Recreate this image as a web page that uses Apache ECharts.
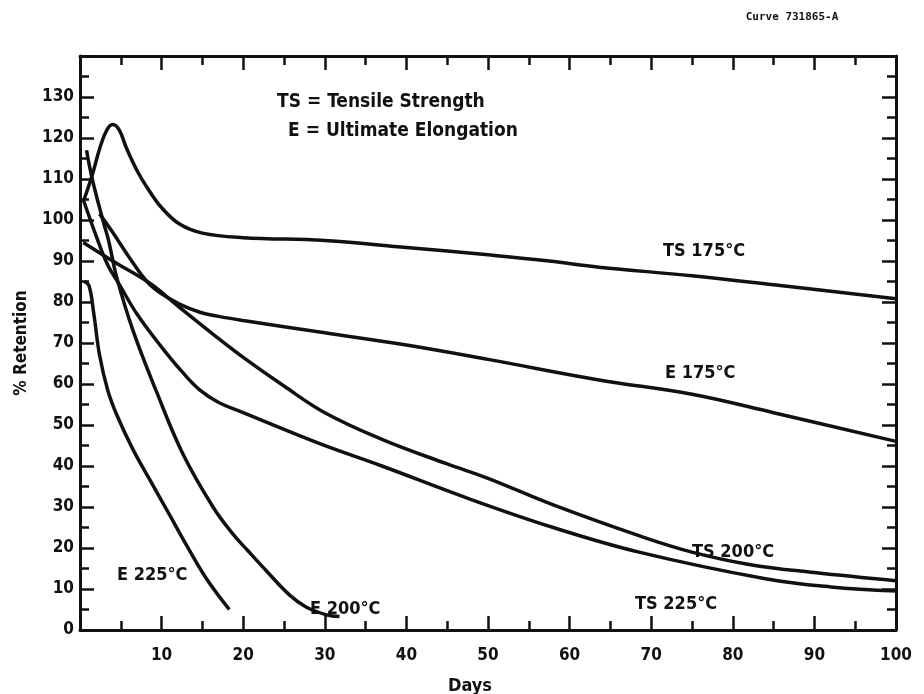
<!DOCTYPE html>
<html>
<head>
<meta charset="utf-8">
<style>
  html, body { margin: 0; padding: 0; background: #fff; }
  #chart { width: 924px; height: 694px; }
</style>
<script src="https://cdn.jsdelivr.net/npm/echarts@6/dist/echarts.min.js"></script>
</head>
<body>
<div id="chart"></div>
<script>
var chart = echarts.init(document.getElementById('chart'));

// [days, % retention]
var ts175 = [[0.5,105],[1.5,111],[2.5,118],[3.3,122],[4,123.3],[4.8,122],[5.7,117.5],[7,112],[8.2,108],[10,103],[12.2,99],[15,96.8],[20,95.7],[30,95],[40,93.3],[50,91.5],[57.5,90],[63.6,88.5],[75,86.4],[85,84.2],[100,80.8]];
var e175 = [[2.4,101.5],[4,97],[6,91],[8.2,85],[10,82],[12.2,79.5],[14.7,77.5],[17,76.5],[20,75.5],[30,72.5],[40,69.5],[50,66],[63.6,61],[75,57.5],[85,53],[100,46]];
var ts200 = [[0.4,94.5],[4,90],[8.6,84.5],[12,79],[16.4,72],[20,66.5],[25,59.5],[30,53],[37,46.5],[45,40.5],[50,37],[58,30.5],[68.5,23],[75,19],[82,16],[90,14],[100,12]];
var ts225 = [[0.4,105],[2,96],[3.4,89],[4.9,84],[7,77],[10,69],[12.5,63],[14.7,58.5],[17,55.5],[20,53],[29.3,45.5],[37,40],[47.7,32],[58,25],[68.5,19],[84,12.5],[92,10.5],[100,9.5]];
var e200 = [[0.8,117],[1.5,110],[2.8,100],[3.5,95],[4.5,86],[6.5,73],[9.4,58],[12.6,43],[16.3,30],[18.7,23.5],[20.5,19.5],[22.8,14.5],[25.7,8.5],[27.7,5.6],[30.2,3.7],[31.8,3.3]];
var e225 = [[0.5,85],[1.1,84],[1.7,77],[2.4,67],[3.4,58.5],[4.5,52.5],[6.5,44],[8.6,36.5],[11,28],[13.1,20.5],[15.5,12.5],[18.3,5]];

var curveNames = ['TS 175°C','E 175°C','TS 200°C','TS 225°C','E 200°C','E 225°C'];
var curveData = [ts175, e175, ts200, ts225, e200, e225];

var FONT = '"DejaVu Sans Condensed", "Liberation Sans", sans-serif';
var INK = '#111';

function axisCommon(pos, showLabel) {
    return {
        type: 'value',
        position: pos,
        axisLine: { show: true, onZero: false, lineStyle: { color: INK, width: 3 } },
        axisTick: { show: true, inside: true, length: 14, lineStyle: { color: INK, width: 2.5 } },
        minorTick: { show: true, splitNumber: 2, length: 9, lineStyle: { color: INK, width: 2.5 } },
        splitLine: { show: false },
        axisLabel: { show: showLabel }
    };
}

var xBottom = axisCommon('bottom', true);
xBottom.min = 0; xBottom.max = 100; xBottom.interval = 10;
xBottom.axisLabel = {
    show: true, margin: 17, color: INK, fontFamily: FONT, fontWeight: 'bold', fontSize: 17,
    formatter: function (v) { return v === 0 ? '' : v; }
};
var xTop = axisCommon('top', false);
xTop.min = 0; xTop.max = 100; xTop.interval = 10;

var yLeft = axisCommon('left', true);
yLeft.min = 0; yLeft.max = 140; yLeft.interval = 10;
yLeft.axisLabel = {
    show: true, margin: 6, color: INK, fontFamily: FONT, fontWeight: 'bold', fontSize: 17,
    formatter: function (v) { return v === 140 ? '' : v; }
};
yLeft.name = '% Retention';
yLeft.nameLocation = 'middle';
yLeft.nameGap = 50;
yLeft.nameTextStyle = { color: INK, fontFamily: FONT, fontWeight: 'bold', fontSize: 17 };
var yRight = axisCommon('right', false);
yRight.min = 0; yRight.max = 140; yRight.interval = 10;

var series = [];
for (var i = 0; i < curveData.length; i++) {
    series.push({
        name: curveNames[i],
        type: 'line',
        xAxisIndex: 0,
        yAxisIndex: 0,
        smooth: 0.4,
        symbol: 'none',
        lineStyle: { color: INK, width: 3.5 },
        data: curveData[i]
    });
}

function txt(x, y, s, size, align) {
    return {
        type: 'text', x: x, y: y,
        style: {
            text: s, fill: INK, font: 'bold ' + size + 'px ' + FONT,
            textAlign: align || 'left', textVerticalAlign: 'middle'
        }
    };
}

var option = {
    animation: false,
    backgroundColor: '#fff',
    grid: { left: 80, right: 28, top: 56, bottom: 64 },
    xAxis: [xBottom, xTop],
    yAxis: [yLeft, yRight],
    series: series,
    graphic: [
        { type: 'text', x: 792, y: 17, style: { text: 'Curve 731865-A', fill: INK, font: 'bold 11px "DejaVu Sans Mono"', textAlign: 'center', textVerticalAlign: 'middle' } },
        txt(277, 102, 'TS = Tensile Strength', 19),
        txt(288, 131, 'E = Ultimate Elongation', 19),
        txt(663, 251, 'TS 175°C', 18),
        txt(665, 373, 'E 175°C', 18),
        txt(692, 552, 'TS 200°C', 18),
        txt(635, 604, 'TS 225°C', 18),
        txt(310, 609, 'E 200°C', 18),
        txt(117, 575, 'E 225°C', 18),
        txt(470, 686, 'Days', 18, 'center')
    ]
};
chart.setOption(option);
</script>
</body>
</html>
